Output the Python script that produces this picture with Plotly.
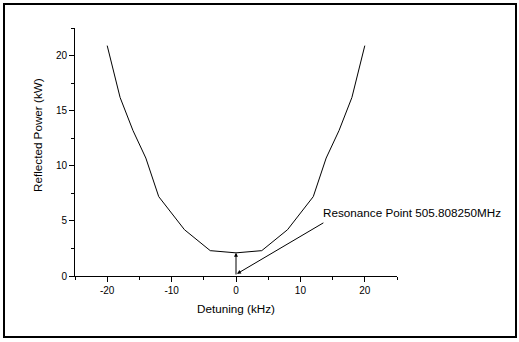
import plotly.graph_objects as go

detuning = [-20, -18, -16, -14, -12, -8, -4, 0, 4, 8, 12, 14, 16, 18, 20]
power = [20.9, 16.2, 13.2, 10.7, 7.2, 4.2, 2.3, 2.1, 2.3, 4.2, 7.2, 10.7, 13.2, 16.2, 20.9]
x_ticks = [-20, -10, 0, 10, 20]
x_labels = ["-20", "-10", "0", "10", "20"]
y_ticks = [0, 5, 10, 15, 20]
y_labels = ["0", "5", "10", "15", "20"]
label = "Resonance Point 505.808250MHz"
x_title = "Detuning (kHz)"
y_title = "Reflected Power (kW)"

font = "Liberation Sans, Arial, sans-serif"

fig = go.Figure()
fig.add_trace(go.Scatter(x=detuning, y=power, mode="lines",
                         line=dict(color="black", width=1), showlegend=False))

axis_common = dict(showline=True, linecolor="black", linewidth=1, mirror=False,
                   showgrid=False, zeroline=False, ticks="outside", ticklen=5,
                   tickcolor="black", tickwidth=1,
                   tickfont=dict(family=font, size=10, color="black"))

fig.update_xaxes(range=[-25, 25], tickvals=x_ticks, ticktext=x_labels,
                 minor=dict(ticks="outside", ticklen=3, tickcolor="black", dtick=5, tick0=-25),
                 **axis_common)
fig.update_yaxes(range=[0, 22.5], tickvals=y_ticks, ticktext=y_labels,
                 minor=dict(ticks="outside", ticklen=3, tickcolor="black", dtick=2.5, tick0=0),
                 **axis_common)

# axis titles as annotations
fig.add_annotation(x=0.5, y=(276 - 308) / 248, xref="paper", yref="paper", text=x_title,
                   showarrow=False, xanchor="center", yanchor="middle",
                   font=dict(family=font, size=11.7, color="black"))
fig.add_annotation(x=(37 - 75) / 322, y=(276 - 135) / 248, xref="paper", yref="paper",
                   text=y_title, textangle=-90, showarrow=False, xanchor="center",
                   yanchor="middle", font=dict(family=font, size=11.7, color="black"))

# vertical arrow at resonance
fig.add_annotation(x=0, y=power[detuning.index(0)], ax=0, ay=0, xref="x", yref="y",
                   axref="x", ayref="y", text="", showarrow=True, arrowhead=2,
                   arrowsize=0.8, arrowwidth=1, arrowcolor="black")
# diagonal arrow from label
fig.add_annotation(x=0.15, y=0.2, ax=13.8, ay=4.9, xref="x", yref="y",
                   axref="x", ayref="y", text="", showarrow=True, arrowhead=2,
                   arrowsize=0.8, arrowwidth=1, arrowcolor="black", standoff=0)
fig.add_annotation(x=13.13, y=5.8, xref="x", yref="y", text=label, showarrow=False,
                   xanchor="left", yanchor="middle",
                   font=dict(family=font, size=11.7, color="black"))

# outer frame
fig.add_shape(type="rect", xref="paper", yref="paper",
              x0=(4 - 75) / 322, x1=(516 - 75) / 322,
              y0=(276 - 337) / 248, y1=(276 - 4) / 248,
              line=dict(color="black", width=2), fillcolor="rgba(0,0,0,0)")

fig.update_layout(width=519, height=342,
                  margin=dict(l=75, r=122, t=28, b=66),
                  paper_bgcolor="white", plot_bgcolor="white")

fig.write_html("out.html", config={"displayModeBar": False},
               post_script="document.body.style.margin='0';document.body.style.overflow='hidden';")
